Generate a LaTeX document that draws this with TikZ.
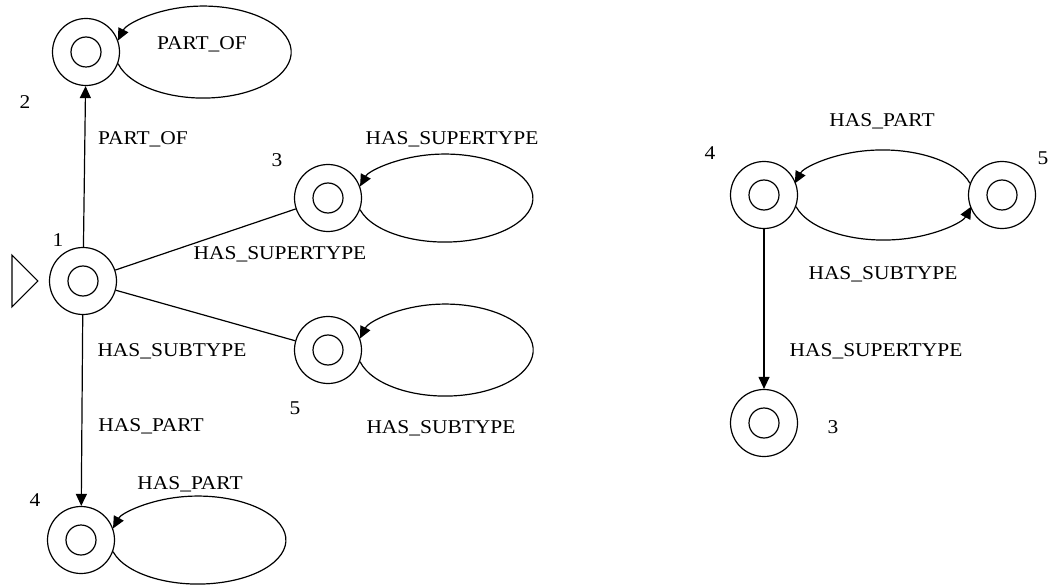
\documentclass[tikz,border=0pt]{standalone}
\usepackage{fontspec}
\setmainfont[FakeStretch=1.1]{Liberation Serif}
\usetikzlibrary{arrows.meta}
\begin{document}
\begin{tikzpicture}[x=1pt,y=1pt,
  st/.style={circle, draw, line width=1.2pt, minimum size=67pt, inner sep=0pt,
    path picture={\draw[line width=1.2pt] (path picture bounding box.center) circle (15pt);}},
  lbl/.style={inner sep=0pt, font=\fontsize{19.5}{22}\selectfont, text height=12.9pt, text depth=0pt},
  con/.style={line width=1.2pt, -{Triangle[length=12pt,width=11pt]}},
  plain/.style={line width=1.2pt}
]
\useasboundingbox (0,0) rectangle (1051,-585);
% left graph
\node[st] (n2) at (86,-52) {};
\node[st] (n1) at (83,-281) {};
\node[st] (n3) at (328,-198) {};
\node[st] (n5) at (328,-350) {};
\node[st] (n4) at (81,-540) {};
% initial marker
\draw[plain] ([xshift=-11pt]n1.west) -- ++(-26,26) -- ++(0,-52) -- cycle;
% edges
\draw[con] (n1) -- (n2);
\draw[plain] (n1) -- (n3);
\draw[plain] (n1) -- (n5);
\draw[con] (n1) -- (n4);
% self loops
\draw[con] (n2.-20) arc[start angle=194.6, end angle=525.4, x radius=88, y radius=46];
\draw[con] (n3.-20) arc[start angle=195.29, end angle=524.71, x radius=88, y radius=44];
\draw[con] (n5.-20) arc[start angle=194.6, end angle=525.4, x radius=88, y radius=46];
\draw[con] (n4.-20) arc[start angle=195.29, end angle=524.71, x radius=88, y radius=44];
% labels left
\node[lbl] (t2) at (25,-102) {2};
\node[lbl] (t1) at (58,-240) {1};
\node[lbl] (t3) at (277,-160) {3};
\node[lbl] (t5) at (295,-408) {5};
\node[lbl] (t4) at (35,-500) {4};
\node[lbl] (e12) at (143,-138) {PART\_OF};
\node[lbl] (l2) at (202,-43) {PART\_OF};
\node[lbl] (l3) at (452,-138) {HAS\_SUPERTYPE};
\node[lbl] (e13) at (280,-253) {HAS\_SUPERTYPE};
\node[lbl] (e15) at (172,-350) {HAS\_SUBTYPE};
\node[lbl] (l5) at (441,-427) {HAS\_SUBTYPE};
\node[lbl] (e14) at (151,-425) {HAS\_PART};
\node[lbl] (l4) at (190,-483) {HAS\_PART};
% right graph
\node[st] (r4) at (764,-195) {};
\node[st] (r5) at (1002,-195) {};
\node[st] (r3) at (764,-423) {};
\draw[con] (r4) -- (r3);
\draw[con] (r5.160) arc[start angle=14.96, end angle=165.04, x radius=90.6, y radius=45];
\draw[con] (r4.-20) arc[start angle=194.96, end angle=345.04, x radius=90.6, y radius=45];
\node[lbl] (u4) at (710,-153) {4};
\node[lbl] (u5) at (1043,-158) {5};
\node[lbl] (u3) at (833,-427) {3};
\node[lbl] (f54) at (882,-120) {HAS\_PART};
\node[lbl] (f45) at (883,-273) {HAS\_SUBTYPE};
\node[lbl] (f43) at (876,-350) {HAS\_SUPERTYPE};
\end{tikzpicture}
\end{document}
